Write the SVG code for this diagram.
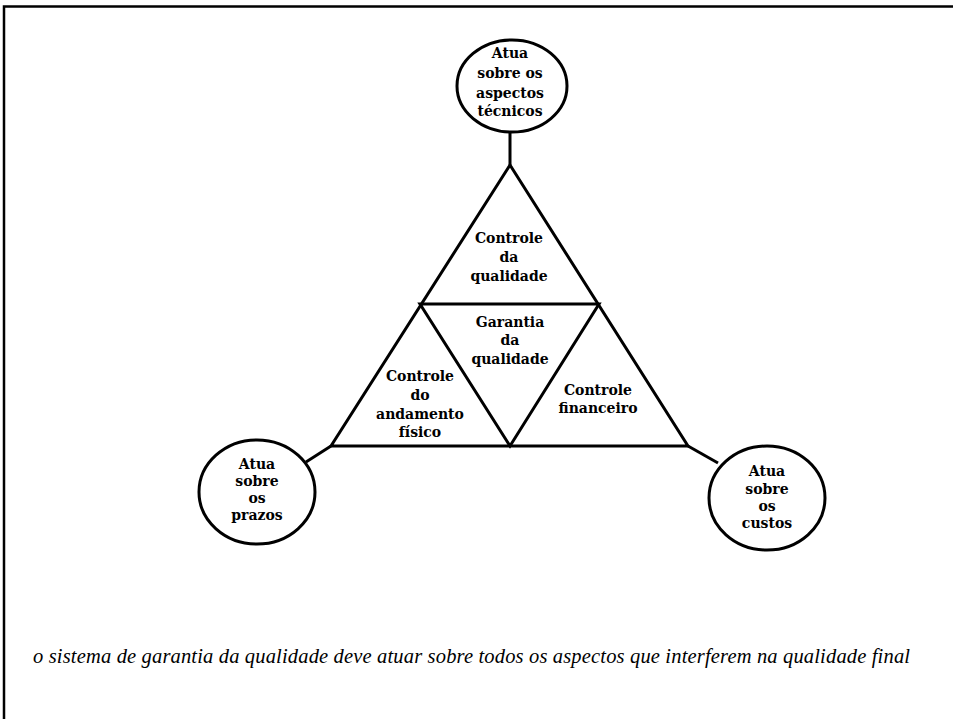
<svg xmlns="http://www.w3.org/2000/svg" width="953" height="719" viewBox="0 0 953 719">
  <style>
    .frame { fill: none; stroke: #000; stroke-width: 2.5; }
    .shape { fill: none; stroke: #000; stroke-width: 3; stroke-linejoin: miter; }
    .bubble { fill: #fff; stroke: #000; stroke-width: 3; }
    .link { fill: none; stroke: #000; stroke-width: 3; }
    .lbl { font-family: "DejaVu Serif", "Liberation Serif", serif; font-weight: bold; font-size: 14px; text-anchor: middle; fill: #000; }
    .note { font-family: "Liberation Serif", "DejaVu Serif", serif; font-style: italic; font-size: 20.5px; fill: #000; }
  </style>
  <rect width="953" height="719" fill="#fff"/>
  <!-- page frame: top and left edges only -->
  <path class="frame" d="M4,719 V6.5 H953"/>

  <!-- connectors from the outer bubbles to the triangle corners -->
  <g id="connectors">
    <line class="link" x1="510" y1="132" x2="510" y2="165"/>
    <line class="link" x1="306" y1="462" x2="331" y2="446"/>
    <line class="link" x1="688" y1="446" x2="718" y2="463"/>
  </g>

  <!-- quality triangle split into four sections -->
  <g id="triangle">
    <polygon class="shape" points="510,165 331,446 688,446"/>
    <polygon class="shape" points="420,304 599,304 510,446"/>
  </g>

  <g id="controle-qualidade">
    <text class="lbl" x="509" y="243">Controle</text>
    <text class="lbl" x="509" y="262">da</text>
    <text class="lbl" x="509" y="281">qualidade</text>
  </g>

  <g id="garantia-qualidade">
    <text class="lbl" x="510" y="327">Garantia</text>
    <text class="lbl" x="510" y="345">da</text>
    <text class="lbl" x="510" y="364">qualidade</text>
  </g>

  <g id="controle-andamento">
    <text class="lbl" x="420" y="381">Controle</text>
    <text class="lbl" x="420" y="400">do</text>
    <text class="lbl" x="420" y="419">andamento</text>
    <text class="lbl" x="420" y="437">físico</text>
  </g>

  <g id="controle-financeiro">
    <text class="lbl" x="598" y="395">Controle</text>
    <text class="lbl" x="598" y="413">financeiro</text>
  </g>

  <g id="aspectos-tecnicos">
    <ellipse class="bubble" cx="512" cy="86" rx="55" ry="46"/>
    <text class="lbl" x="510" y="58">Atua</text>
    <text class="lbl" x="510" y="78">sobre os</text>
    <text class="lbl" x="510" y="98">aspectos</text>
    <text class="lbl" x="510" y="116">técnicos</text>
  </g>

  <g id="prazos">
    <ellipse class="bubble" cx="257" cy="492" rx="58" ry="52"/>
    <text class="lbl" x="257" y="469">Atua</text>
    <text class="lbl" x="257" y="486">sobre</text>
    <text class="lbl" x="257" y="503">os</text>
    <text class="lbl" x="257" y="520">prazos</text>
  </g>

  <g id="custos">
    <ellipse class="bubble" cx="767" cy="498" rx="58" ry="52"/>
    <text class="lbl" x="767" y="476">Atua</text>
    <text class="lbl" x="767" y="494">sobre</text>
    <text class="lbl" x="767" y="511">os</text>
    <text class="lbl" x="767" y="528">custos</text>
  </g>

  <text class="note" x="33" y="663" textLength="877" lengthAdjust="spacing">o sistema de garantia da qualidade deve atuar sobre todos os aspectos que interferem na qualidade final</text>
</svg>
